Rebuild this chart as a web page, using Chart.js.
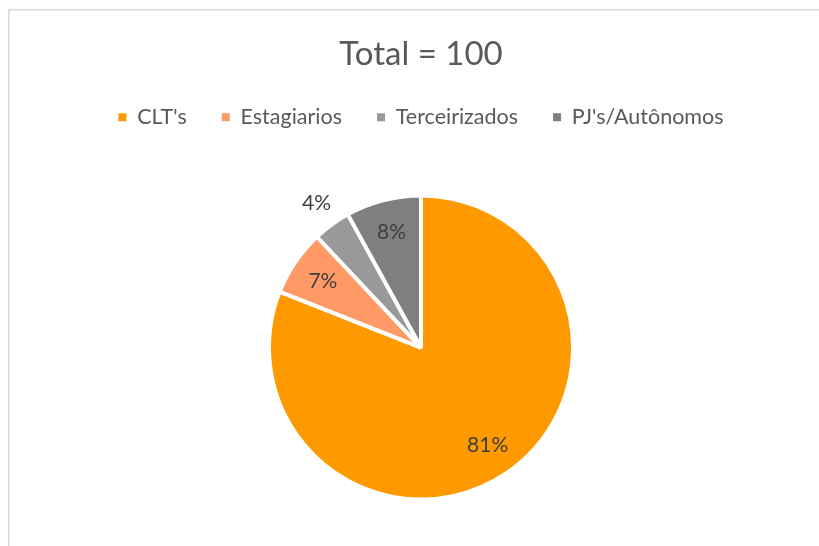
<!DOCTYPE html>
<html>
<head>
<meta charset="utf-8">
<script src="https://cdn.jsdelivr.net/npm/chart.js@4.4.1/dist/chart.umd.min.js"></script>
<style>
  html, body { margin: 0; padding: 0; background: #fff; overflow: hidden; }
  #wrap { width: 819px; height: 546px; overflow: hidden; }
</style>
</head>
<body>
<div id="wrap"><canvas id="myChart" width="819" height="570"></canvas></div>
<script>
const categorias = ["CLT's", "Estagiarios", "Terceirizados", "PJ's/Autônomos"];
const valores = [81, 7, 4, 8];
const cores = ["#FF9900", "#FF9966", "#999999", "#7F7F7F"];
const titulo = "Total = 100";

const FONTE = "Lato, 'Open Sans', sans-serif";

// fundo branco + moldura cinza clara (estilo Excel)
const moldura = {
  id: "moldura",
  beforeDraw: (chart) => {
    const { ctx } = chart;
    ctx.save();
    ctx.fillStyle = "#fff";
    ctx.fillRect(0, 0, chart.width, chart.height);
    ctx.strokeStyle = "#d9d9d9";
    ctx.lineWidth = 1.5;
    ctx.strokeRect(8.75, 9.75, chart.width + 20, chart.height + 20);
    ctx.restore();
  },
};

// rótulos de porcentagem em cada fatia
const rotulos = {
  id: "rotulos",
  afterDatasetsDraw: (chart) => {
    const { ctx } = chart;
    const meta = chart.getDatasetMeta(0);
    const dados = chart.data.datasets[0].data;
    const total = dados.reduce((a, b) => a + b, 0);
    ctx.save();
    ctx.font = "21px " + FONTE;
    ctx.fillStyle = "#404040";
    ctx.textAlign = "center";
    ctx.textBaseline = "middle";
    meta.data.forEach((arc, i) => {
      const p = dados[i] / total;
      const meio = (arc.startAngle + arc.endAngle) / 2;
      const f = p < 0.05 ? 1.17 : 0.78;
      const r = arc.outerRadius * f;
      const x = arc.x + Math.cos(meio) * r;
      const y = arc.y + Math.sin(meio) * r;
      ctx.fillText(Math.round(p * 100) + "%", x, y);
    });
    ctx.restore();
  },
};

// legenda sem a borda branca das fatias
const gerarLegenda = (chart) =>
  Chart.overrides.pie.plugins.legend.labels
    .generateLabels(chart)
    .map((item) => ({ ...item, lineWidth: 0, strokeStyle: item.fillStyle }));

new Chart(document.getElementById("myChart"), {
  type: "pie",
  data: {
    labels: categorias,
    datasets: [
      {
        data: valores,
        backgroundColor: cores,
        borderColor: "#ffffff",
        borderWidth: 4,
        radius: 152,
      },
    ],
  },
  options: {
    responsive: false,
    animation: false,
    layout: {
      padding: { left: 23, right: 0, top: 0, bottom: 13 },
    },
    plugins: {
      title: {
        display: true,
        text: titulo,
        color: "#595959",
        font: { family: FONTE, size: 33, weight: "normal" },
        padding: { top: 35, bottom: -3 },
      },
      legend: {
        position: "top",
        labels: {
          color: "#595959",
          font: { family: FONTE, size: 21.5 },
          boxWidth: 8,
          boxHeight: 8,
          padding: 35,
          generateLabels: gerarLegenda,
        },
      },
      tooltip: { enabled: false },
    },
  },
  plugins: [moldura, rotulos],
});
</script>
</body>
</html>
